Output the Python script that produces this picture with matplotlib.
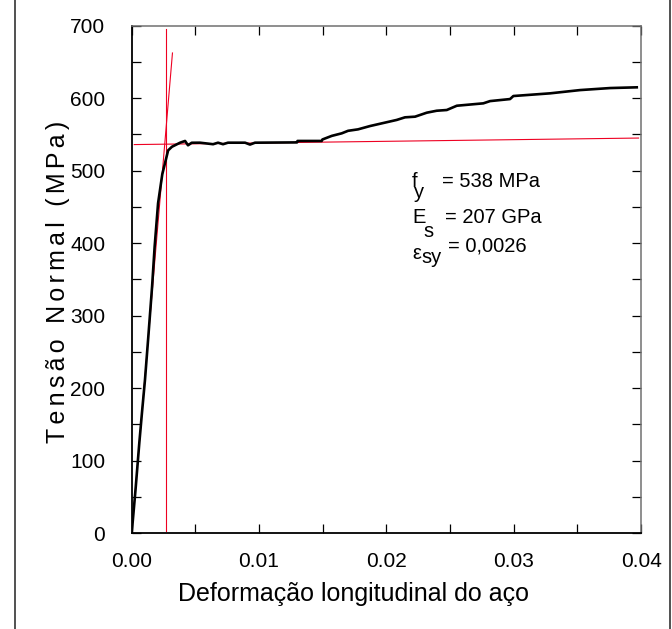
import numpy as np
import matplotlib
matplotlib.use('Agg')
import matplotlib.pyplot as plt
from matplotlib.lines import Line2D
from matplotlib.ticker import MultipleLocator, FormatStrFormatter

plt.rcParams['font.family'] = ['Liberation Sans', 'DejaVu Sans']

# measured stress-strain curve of the steel bar
strain = [0.0, 0.0003, 0.0006, 0.0008, 0.00104, 0.0013, 0.0016, 0.0018, 0.00207,
          0.0024, 0.00286, 0.00316, 0.0038, 0.00419, 0.00442, 0.00471, 0.00536,
          0.00639, 0.00678, 0.00717, 0.00756, 0.0089, 0.00929, 0.00968, 0.01298,
          0.01302, 0.01492, 0.01497, 0.01571, 0.01649, 0.01699, 0.01777, 0.01872,
          0.02081, 0.02146, 0.02225, 0.02317, 0.02395, 0.02474, 0.02553, 0.02761,
          0.02814, 0.02971, 0.02997, 0.03285, 0.03521, 0.03757, 0.03966]
stress = [0, 60, 125, 165, 211, 270, 340, 395, 455,
          495, 528, 533, 538.6, 541, 535, 538.5, 538.6,
          536.5, 538.6, 536.5, 538.6, 538.6, 536, 538.6, 539,
          541, 541, 543, 548, 551.5, 555, 557, 561.6,
          570, 573.6, 574.5, 580, 582.7, 583.7, 589.6, 592.9,
          596, 598.8, 603, 606.7, 611.2, 614, 615]

# bilinear idealisation
fy = 538            # MPa
Es = 207000         # MPa
eps_sy = 0.0027
elastic_x = [0.0, 0.0032]
plateau_x = [0.0002, 0.0398]
plateau_y = [536, 545]
yield_line_y = [3, 695]

fig = plt.figure(figsize=(6.72, 6.29), dpi=100)
ax = fig.add_axes([0.196, 0.1526, 0.758, 0.8065])

ax.plot(strain, stress, color='black', lw=1.9, zorder=3)
ax.plot(elastic_x, [Es * x for x in elastic_x], color='#ee0022', lw=0.8, zorder=2)
ax.plot(plateau_x, plateau_y, color='#ee0022', lw=0.8, zorder=2)
ax.plot([eps_sy, eps_sy], yield_line_y, color='#ee0022', lw=0.8, zorder=2)

ax.set_xlim(0, 0.04)
ax.set_ylim(0, 700)
ax.xaxis.set_major_locator(MultipleLocator(0.01))
ax.xaxis.set_minor_locator(MultipleLocator(0.005))
ax.xaxis.set_major_formatter(FormatStrFormatter('%.2f'))
ax.yaxis.set_major_locator(MultipleLocator(100))
ax.yaxis.set_minor_locator(MultipleLocator(50))
ax.tick_params(which='both', direction='in', top=True, right=True, length=6.5,
               width=0.9, labelsize=15)
ax.tick_params(axis='x', pad=14)
ax.tick_params(axis='y', pad=19)

for side in ['left', 'bottom']:
    ax.spines[side].set_linewidth(1.3)
    ax.spines[side].set_color('black')
for side in ['top', 'right']:
    ax.spines[side].set_linewidth(1.1)
    ax.spines[side].set_color('#707070')

ax.set_xlabel('Deformação longitudinal do aço', fontsize=18)
ax.xaxis.set_label_coords(0.436, -0.097)
ylab = '\u200a\u200a'.join('Tensão Normal (MPa)')
ax.set_ylabel(ylab, fontsize=18)
ax.yaxis.set_label_coords(-0.122, 0.495)

# property annotations
fs = 14.5
ax.text(0.02201, 477, 'f', fontsize=fs, va='baseline')
ax.text(0.02215, 462, 'y', fontsize=fs, va='baseline')
ax.text(0.02436, 477, '= %d MPa' % fy, fontsize=fs, va='baseline')
ax.text(0.02201, 428, 'E', fontsize=fs, va='baseline')
ax.text(0.02287, 408, 's', fontsize=fs, va='baseline')
ax.text(0.02460, 428, '= %d GPa' % (Es / 1000), fontsize=fs, va='baseline')
ax.text(0.02205, 378, '\u03b5', fontsize=fs, va='baseline')
ax.text(0.02275, 372, 'sy', fontsize=fs, va='baseline')
ax.text(0.02484, 389, '= 0,0026', fontsize=fs, va='baseline')

# page frame lines
for fx in [15 / 672, 670 / 672]:
    fig.add_artist(Line2D([fx, fx], [0, 1], transform=fig.transFigure,
                          color='#333333', lw=1.2))

fig.savefig('out.png', dpi=100)
